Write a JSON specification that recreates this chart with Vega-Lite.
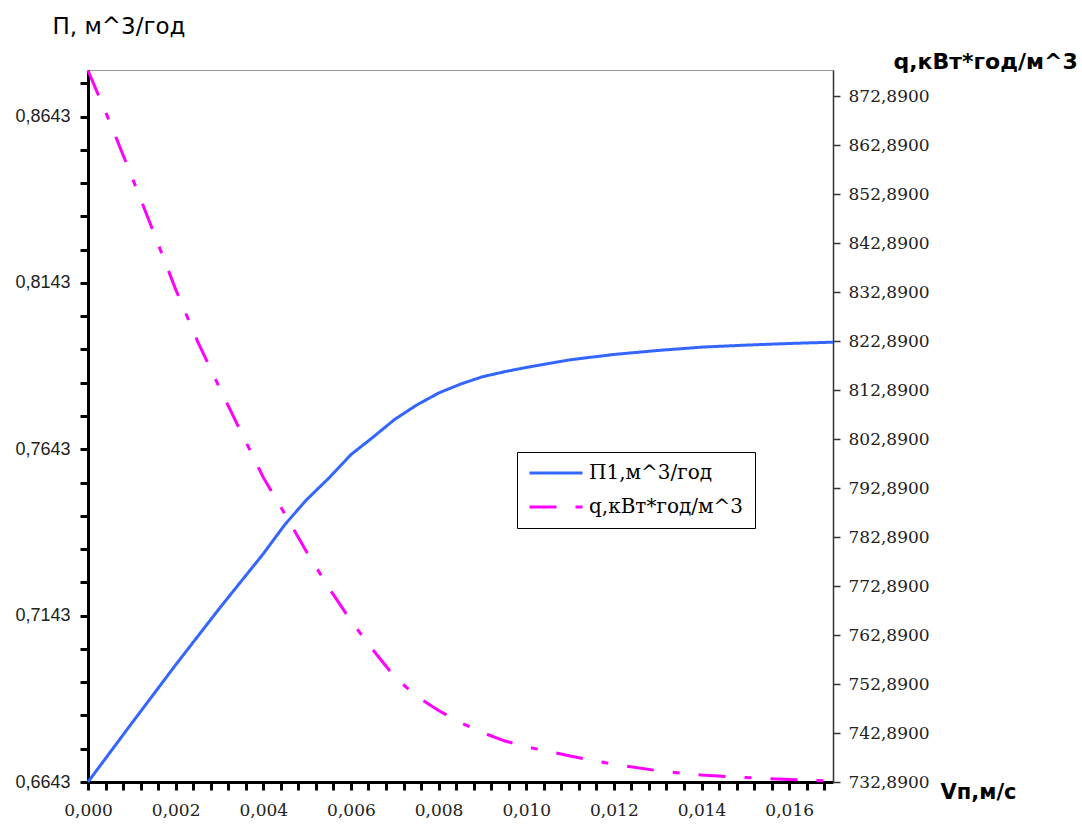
{
  "$schema": "https://vega.github.io/schema/vega-lite/v6.json",
  "autosize": "none",
  "width": 745,
  "height": 712,
  "padding": {"left": 88, "top": 70, "right": 249, "bottom": 43},
  "background": "white",
  "config": {
    "view": {"stroke": "#999999", "strokeWidth": 1},
    "axis": {"grid": false, "labelOverlap": false, "labelFlush": false}
  },
  "data": {
    "values": [
      {"v": 0, "s": "П1,м^3/год", "val": 0.6643},
      {"v": 0.001, "s": "П1,м^3/год", "val": 0.6820},
      {"v": 0.002, "s": "П1,м^3/год", "val": 0.6995},
      {"v": 0.003, "s": "П1,м^3/год", "val": 0.7165},
      {"v": 0.004, "s": "П1,м^3/год", "val": 0.7329},
      {"v": 0.0045, "s": "П1,м^3/год", "val": 0.7418},
      {"v": 0.005, "s": "П1,м^3/год", "val": 0.7493},
      {"v": 0.0055, "s": "П1,м^3/год", "val": 0.7557},
      {"v": 0.006, "s": "П1,м^3/год", "val": 0.7627},
      {"v": 0.0065, "s": "П1,м^3/год", "val": 0.7679},
      {"v": 0.007, "s": "П1,м^3/год", "val": 0.7733},
      {"v": 0.0075, "s": "П1,м^3/год", "val": 0.7776},
      {"v": 0.008, "s": "П1,м^3/год", "val": 0.7812},
      {"v": 0.0085, "s": "П1,м^3/год", "val": 0.7839},
      {"v": 0.009, "s": "П1,м^3/год", "val": 0.7861},
      {"v": 0.0095, "s": "П1,м^3/год", "val": 0.7876},
      {"v": 0.010, "s": "П1,м^3/год", "val": 0.7889},
      {"v": 0.011, "s": "П1,м^3/год", "val": 0.7912},
      {"v": 0.012, "s": "П1,м^3/год", "val": 0.7928},
      {"v": 0.013, "s": "П1,м^3/год", "val": 0.7940},
      {"v": 0.014, "s": "П1,м^3/год", "val": 0.7950},
      {"v": 0.015, "s": "П1,м^3/год", "val": 0.7956},
      {"v": 0.016, "s": "П1,м^3/год", "val": 0.7961},
      {"v": 0.017, "s": "П1,м^3/год", "val": 0.7965},
      {"v": 0, "s": "q,кВт*год/м^3", "val": 878.2},
      {"v": 0.0005, "s": "q,кВт*год/м^3", "val": 867.6},
      {"v": 0.001, "s": "q,кВт*год/м^3", "val": 856.5},
      {"v": 0.0015, "s": "q,кВт*год/м^3", "val": 845.1},
      {"v": 0.002, "s": "q,кВт*год/м^3", "val": 833.5},
      {"v": 0.0025, "s": "q,кВт*год/м^3", "val": 822.9},
      {"v": 0.003, "s": "q,кВт*год/м^3", "val": 813.4},
      {"v": 0.0035, "s": "q,кВт*год/м^3", "val": 804.2},
      {"v": 0.004, "s": "q,кВт*год/м^3", "val": 795.1},
      {"v": 0.0045, "s": "q,кВт*год/м^3", "val": 787.5},
      {"v": 0.005, "s": "q,кВт*год/м^3", "val": 779.7},
      {"v": 0.0055, "s": "q,кВт*год/м^3", "val": 772.5},
      {"v": 0.006, "s": "q,кВт*год/м^3", "val": 765.8},
      {"v": 0.0065, "s": "q,кВт*год/м^3", "val": 759.9},
      {"v": 0.007, "s": "q,кВт*год/м^3", "val": 754.3},
      {"v": 0.0075, "s": "q,кВт*год/м^3", "val": 750.4},
      {"v": 0.008, "s": "q,кВт*год/м^3", "val": 747.5},
      {"v": 0.0085, "s": "q,кВт*год/м^3", "val": 745.0},
      {"v": 0.009, "s": "q,кВт*год/м^3", "val": 743.0},
      {"v": 0.0095, "s": "q,кВт*год/м^3", "val": 741.3},
      {"v": 0.010, "s": "q,кВт*год/м^3", "val": 740.1},
      {"v": 0.011, "s": "q,кВт*год/м^3", "val": 738.2},
      {"v": 0.012, "s": "q,кВт*год/м^3", "val": 736.5},
      {"v": 0.013, "s": "q,кВт*год/м^3", "val": 735.2},
      {"v": 0.014, "s": "q,кВт*год/м^3", "val": 734.3},
      {"v": 0.015, "s": "q,кВт*год/м^3", "val": 733.8},
      {"v": 0.016, "s": "q,кВт*год/м^3", "val": 733.4},
      {"v": 0.017, "s": "q,кВт*год/м^3", "val": 733.1}
    ]
  },
  "encoding": {
    "x": {
      "field": "v", "type": "quantitative",
      "scale": {"domain": [0, 0.017], "nice": false, "zero": false},
      "axis": {
        "values": [0,0.0004,0.0008,0.0012,0.0016,0.002,0.0024,0.0028,0.0032,0.0036,0.004,0.0044,0.0048,0.0052,0.0056,0.006,0.0064,0.0068,0.0072,0.0076,0.008,0.0084,0.0088,0.0092,0.0096,0.01,0.0104,0.0108,0.0112,0.0116,0.012,0.0124,0.0128,0.0132,0.0136,0.014,0.0144,0.0148,0.0152,0.0156,0.016,0.0164,0.0168],
        "labelExpr": "round(datum.value*2500) % 5 == 0 ? replace(format(datum.value,'.3f'),'.',',') : ''",
        "domainColor": "black", "domainWidth": 3,
        "tickColor": "black", "tickWidth": 3, "tickSize": 8,
        "labelFont": "DejaVu Serif", "labelFontSize": 17, "labelColor": "#222222", "labelPadding": 12,
        "title": "Vп,м/с", "titleFont": "DejaVu Sans", "titleFontSize": 21, "titleFontWeight": "bold",
        "titleAlign": "left", "titleBaseline": "alphabetic", "titleX": 852, "titleY": 16, "titleColor": "black"
      }
    },
    "color": {
      "field": "s", "type": "nominal",
      "scale": {"domain": ["П1,м^3/год", "q,кВт*год/м^3"], "range": ["#3366FF", "#FF00FF"]},
      "legend": {
        "title": null, "orient": "none", "legendX": 429, "legendY": 382,
        "strokeColor": "black", "fillColor": "white", "padding": 11,
        "symbolType": "stroke", "symbolSize": 2809, "symbolStrokeWidth": 3,
        "clipHeight": 20, "rowPadding": 14, "labelOffset": 5,
        "labelFont": "DejaVu Serif", "labelFontSize": 20, "labelColor": "black"
      }
    },
    "strokeDash": {
      "field": "s", "type": "nominal",
      "scale": {"domain": ["П1,м^3/год", "q,кВт*год/м^3"], "range": [[1, 0], [27, 19, 7, 19]]},
      "legend": {
        "title": null, "orient": "none", "legendX": 429, "legendY": 382,
        "strokeColor": "black", "fillColor": "white", "padding": 11,
        "symbolType": "stroke", "symbolSize": 2809, "symbolStrokeWidth": 3,
        "clipHeight": 20, "rowPadding": 14, "labelOffset": 5,
        "labelFont": "DejaVu Serif", "labelFontSize": 20, "labelColor": "black"
      }
    }
  },
  "layer": [
    {
      "transform": [{"filter": "datum.s == 'П1,м^3/год'"}],
      "mark": {"type": "line", "strokeWidth": 3},
      "encoding": {
        "y": {
          "field": "val", "type": "quantitative",
          "scale": {"domain": [0.6643, 0.8783], "nice": false, "zero": false},
          "axis": {
            "orient": "left",
            "values": [0.6643,0.6743,0.6843,0.6943,0.7043,0.7143,0.7243,0.7343,0.7443,0.7543,0.7643,0.7743,0.7843,0.7943,0.8043,0.8143,0.8243,0.8343,0.8443,0.8543,0.8643,0.8743],
            "labelExpr": "round((datum.value-0.6643)*100) % 5 == 0 ? replace(format(datum.value,'.4f'),'.',',') : ''",
            "domainColor": "black", "domainWidth": 3,
            "tickColor": "black", "tickWidth": 3, "tickSize": 8,
            "labelFont": "Liberation Sans", "labelFontSize": 18, "labelColor": "#222222", "labelPadding": 10,
            "title": "П, м^3/год", "titleFont": "DejaVu Sans", "titleFontSize": 23, "titleFontWeight": "normal",
            "titleAngle": 0, "titleAlign": "left", "titleBaseline": "alphabetic", "titleX": -36, "titleY": -37, "titleColor": "black"
          }
        }
      }
    },
    {
      "transform": [{"filter": "datum.s == 'q,кВт*год/м^3'"}],
      "mark": {"type": "line", "strokeWidth": 3},
      "encoding": {
        "y": {
          "field": "val", "type": "quantitative",
          "scale": {"domain": [732.89, 878.3], "nice": false, "zero": false},
          "axis": {
            "orient": "right",
            "values": [732.89,742.89,752.89,762.89,772.89,782.89,792.89,802.89,812.89,822.89,832.89,842.89,852.89,862.89,872.89],
            "labelExpr": "replace(format(datum.value,'.4f'),'.',',')",
            "domainColor": "#333333", "domainWidth": 1.5,
            "tickColor": "#333333", "tickWidth": 1.5, "tickSize": 7,
            "labelFont": "DejaVu Serif", "labelFontSize": 17, "labelColor": "#222222", "labelPadding": 8,
            "title": "q,кВт*год/м^3", "titleFont": "DejaVu Sans", "titleFontSize": 22, "titleFontWeight": "bold",
            "titleAngle": 0, "titleAlign": "left", "titleBaseline": "alphabetic", "titleX": 60, "titleY": -2, "titleColor": "black"
          }
        }
      }
    }
  ],
  "resolve": {"scale": {"y": "independent"}}
}
